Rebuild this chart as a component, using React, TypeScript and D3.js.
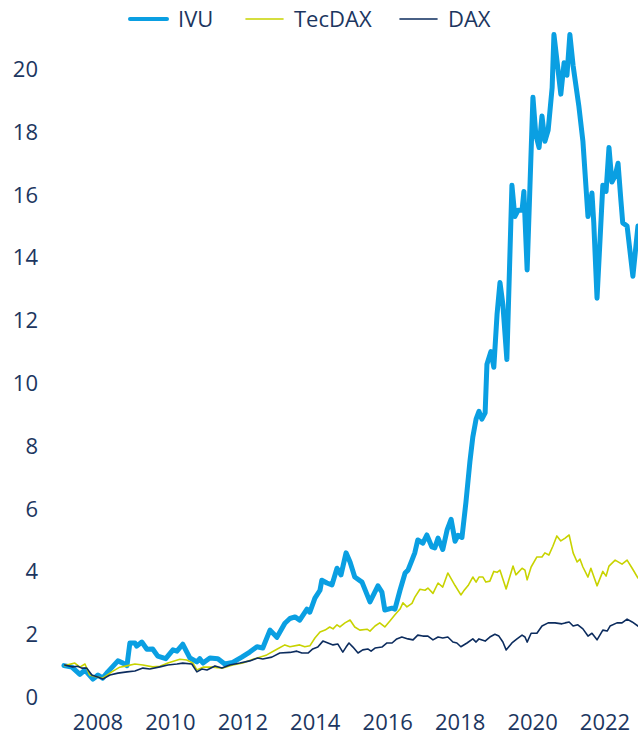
import React from "react";
import * as d3 from "d3";

const ivuYears = [2007.06, 2007.28, 2007.5, 2007.64, 2007.86, 2008.0, 2008.13, 2008.27, 2008.55, 2008.69, 2008.8, 2008.88, 2009.02, 2009.07, 2009.21, 2009.35, 2009.51, 2009.65, 2009.87, 2010.07, 2010.18, 2010.34, 2010.54, 2010.73, 2010.81, 2010.9, 2011.09, 2011.31, 2011.5, 2011.72, 2011.97, 2012.19, 2012.39, 2012.55, 2012.75, 2012.94, 2013.16, 2013.3, 2013.44, 2013.57, 2013.77, 2013.85, 2013.99, 2014.13, 2014.18, 2014.32, 2014.46, 2014.6, 2014.71, 2014.85, 2014.96, 2015.09, 2015.29, 2015.51, 2015.73, 2015.84, 2015.92, 2016.12, 2016.2, 2016.34, 2016.48, 2016.56, 2016.67, 2016.75, 2016.83, 2016.97, 2017.08, 2017.22, 2017.3, 2017.39, 2017.52, 2017.64, 2017.75, 2017.86, 2017.94, 2018.05, 2018.16, 2018.27, 2018.35, 2018.44, 2018.52, 2018.6, 2018.69, 2018.74, 2018.85, 2018.93, 2019.02, 2019.1, 2019.18, 2019.29, 2019.43, 2019.51, 2019.6, 2019.71, 2019.76, 2019.85, 2020.01, 2020.09, 2020.18, 2020.26, 2020.34, 2020.43, 2020.54, 2020.59, 2020.67, 2020.78, 2020.87, 2020.95, 2021.03, 2021.12, 2021.28, 2021.39, 2021.53, 2021.64, 2021.69, 2021.78, 2021.94, 2022.03, 2022.11, 2022.19, 2022.28, 2022.36, 2022.44, 2022.49, 2022.61, 2022.77, 2022.91];
const ivuValues = [1.0, 0.95, 0.72, 0.86, 0.57, 0.7, 0.6, 0.8, 1.15, 1.08, 1.0, 1.72, 1.72, 1.62, 1.75, 1.52, 1.53, 1.3, 1.22, 1.5, 1.46, 1.68, 1.24, 1.12, 1.22, 1.08, 1.24, 1.22, 1.05, 1.1, 1.27, 1.43, 1.6, 1.56, 2.13, 1.9, 2.35, 2.5, 2.55, 2.45, 2.8, 2.7, 3.15, 3.4, 3.72, 3.63, 3.57, 4.1, 3.89, 4.59, 4.3, 3.82, 3.66, 3.03, 3.54, 3.34, 2.77, 2.83, 2.8, 3.4, 3.95, 4.04, 4.36, 4.6, 5.0, 4.9, 5.16, 4.78, 4.75, 5.06, 4.7, 5.32, 5.66, 4.96, 5.15, 5.08, 6.2, 7.5, 8.28, 8.85, 9.1, 8.85, 9.05, 10.6, 11.0, 10.5, 12.2, 13.2, 12.5, 10.75, 16.3, 15.3, 15.5, 15.5, 16.1, 13.6, 19.1, 17.9, 17.5, 18.5, 17.7, 18.05, 19.4, 21.1, 20.3, 19.2, 20.2, 19.8, 21.1, 20.1, 18.8, 17.7, 15.3, 16.05, 15.1, 12.7, 16.3, 16.1, 17.5, 16.4, 16.6, 17.0, 15.8, 15.1, 15.0, 13.4, 15.0];

const tecdaxYears = [2007.08, 2007.36, 2007.5, 2007.64, 2007.77, 2007.97, 2008.13, 2008.38, 2008.6, 2008.82, 2009.02, 2009.24, 2009.51, 2009.71, 2009.93, 2010.26, 2010.45, 2010.62, 2010.73, 2010.9, 2011.17, 2011.45, 2011.72, 2012.0, 2012.28, 2012.66, 2012.94, 2013.16, 2013.3, 2013.57, 2013.71, 2013.85, 2013.99, 2014.13, 2014.27, 2014.4, 2014.49, 2014.6, 2014.68, 2014.82, 2014.96, 2015.09, 2015.23, 2015.43, 2015.51, 2015.65, 2015.78, 2015.92, 2016.06, 2016.2, 2016.34, 2016.42, 2016.53, 2016.67, 2016.75, 2016.89, 2017.03, 2017.11, 2017.25, 2017.39, 2017.52, 2017.66, 2017.86, 2018.02, 2018.1, 2018.22, 2018.35, 2018.44, 2018.52, 2018.63, 2018.71, 2018.82, 2018.93, 2019.02, 2019.1, 2019.27, 2019.46, 2019.54, 2019.71, 2019.79, 2019.85, 2019.96, 2020.12, 2020.26, 2020.34, 2020.45, 2020.56, 2020.67, 2020.78, 2020.9, 2021.01, 2021.12, 2021.23, 2021.31, 2021.39, 2021.53, 2021.61, 2021.78, 2021.94, 2022.03, 2022.11, 2022.28, 2022.47, 2022.61, 2022.75, 2022.91];
const tecdaxValues = [1.0, 1.08, 0.95, 1.05, 0.7, 0.64, 0.6, 0.8, 0.95, 1.0, 1.05, 1.02, 0.96, 0.98, 1.08, 1.2, 1.18, 1.08, 0.86, 0.95, 0.95, 0.92, 1.02, 1.08, 1.2, 1.34, 1.52, 1.66, 1.6, 1.66, 1.6, 1.63, 1.88, 2.07, 2.13, 2.23, 2.17, 2.3, 2.23, 2.36, 2.45, 2.23, 2.13, 2.16, 2.1, 2.26, 2.36, 2.23, 2.42, 2.62, 2.8, 3.0, 2.87, 2.98, 3.18, 3.43, 3.4, 3.47, 3.3, 3.63, 3.5, 3.95, 3.55, 3.25, 3.38, 3.55, 3.82, 3.66, 3.82, 3.82, 3.66, 3.69, 4.0, 3.97, 4.04, 3.44, 4.17, 3.89, 4.1, 4.04, 3.73, 4.14, 4.46, 4.46, 4.59, 4.52, 4.8, 5.13, 4.97, 5.06, 5.16, 4.59, 4.3, 4.39, 4.14, 3.82, 4.1, 3.54, 4.0, 3.85, 4.17, 4.36, 4.23, 4.36, 4.1, 3.79];

const daxYears = [2007.08, 2007.3, 2007.44, 2007.55, 2007.69, 2007.83, 2007.99, 2008.13, 2008.33, 2008.55, 2008.8, 2009.02, 2009.24, 2009.43, 2009.71, 2009.93, 2010.18, 2010.34, 2010.59, 2010.73, 2010.87, 2011.01, 2011.23, 2011.42, 2011.64, 2011.92, 2012.19, 2012.41, 2012.55, 2012.8, 2013.02, 2013.3, 2013.49, 2013.63, 2013.8, 2013.93, 2014.07, 2014.21, 2014.35, 2014.49, 2014.62, 2014.76, 2014.85, 2014.93, 2015.04, 2015.18, 2015.31, 2015.45, 2015.54, 2015.65, 2015.84, 2015.98, 2016.12, 2016.25, 2016.39, 2016.56, 2016.7, 2016.83, 2016.97, 2017.11, 2017.25, 2017.39, 2017.52, 2017.66, 2017.8, 2017.91, 2018.02, 2018.19, 2018.35, 2018.44, 2018.52, 2018.69, 2018.82, 2018.96, 2019.07, 2019.18, 2019.27, 2019.43, 2019.57, 2019.71, 2019.79, 2019.85, 2019.96, 2020.12, 2020.26, 2020.43, 2020.62, 2020.81, 2020.9, 2021.01, 2021.12, 2021.25, 2021.39, 2021.53, 2021.64, 2021.78, 2021.94, 2022.06, 2022.14, 2022.33, 2022.47, 2022.61, 2022.75, 2022.91];
const daxValues = [1.02, 0.96, 0.98, 0.92, 0.92, 0.7, 0.64, 0.57, 0.7, 0.76, 0.8, 0.83, 0.92, 0.89, 0.96, 1.02, 1.05, 1.08, 1.05, 0.8, 0.89, 0.86, 0.99, 0.92, 1.02, 1.08, 1.15, 1.24, 1.21, 1.27, 1.4, 1.42, 1.46, 1.4, 1.4, 1.53, 1.59, 1.78, 1.72, 1.66, 1.69, 1.43, 1.59, 1.72, 1.59, 1.4, 1.5, 1.53, 1.46, 1.56, 1.59, 1.72, 1.72, 1.85, 1.91, 1.85, 1.82, 1.97, 1.94, 1.94, 1.82, 1.91, 1.88, 1.91, 1.75, 1.72, 1.6, 1.72, 1.85, 1.75, 1.85, 1.78, 1.91, 2.0, 1.94, 1.75, 1.5, 1.72, 1.85, 1.97, 1.91, 1.75, 2.03, 2.03, 2.26, 2.36, 2.36, 2.33, 2.36, 2.39, 2.26, 2.3, 2.17, 1.94, 2.03, 1.82, 2.13, 2.1, 2.26, 2.36, 2.36, 2.48, 2.39, 2.26];

const xTicks = [2008, 2010, 2012, 2014, 2016, 2018, 2020, 2022];
const yTicks = [0, 2, 4, 6, 8, 10, 12, 14, 16, 18, 20];

const seriesNames = ["IVU", "TecDAX", "DAX"];
const seriesColors = ["#0A9FE2", "#C8D300", "#0C2C5E"];
const seriesWidths = [5, 1.6, 1.6];

const W = 638;
const H = 736;
const FONT = "'Open Sans', 'Noto Sans', sans-serif";
const TEXT = "#1C3660";

export default function App() {
  const x = d3.scaleLinear().domain([2008, 2022]).range([98, 605]);
  const y = d3.scaleLinear().domain([0, 20]).range([697, 69]);

  const line = d3
    .line<[number, number]>()
    .x((d) => x(d[0]))
    .y((d) => y(d[1]));

  const series = [
    ivuYears.map((t, i) => [t, ivuValues[i]] as [number, number]),
    tecdaxYears.map((t, i) => [t, tecdaxValues[i]] as [number, number]),
    daxYears.map((t, i) => [t, daxValues[i]] as [number, number]),
  ];

  const legendX = [130, 246, 400];

  return (
    <svg
      width={W}
      height={H}
      style={{ position: "absolute", left: 0, top: 0, background: "#fff" }}
      fontFamily={FONT}
    >
      {yTicks.map((v) => (
        <text
          key={v}
          x={38}
          y={y(v)}
          dy="0.36em"
          textAnchor="end"
          fontSize={22}
          fill={TEXT}
        >
          {v}
        </text>
      ))}
      {xTicks.map((t) => (
        <text
          key={t}
          x={x(t)}
          y={730}
          textAnchor="middle"
          fontSize={22}
          fill={TEXT}
        >
          {t}
        </text>
      ))}
      <g>
        {series.map((s, i) => (
          <path
            key={seriesNames[i]}
            d={line(s) || ""}
            fill="none"
            stroke={seriesColors[i]}
            strokeWidth={seriesWidths[i]}
            strokeLinejoin="round"
            strokeLinecap="round"
          />
        ))}
      </g>
      {seriesNames.map((n, i) => (
        <g key={n}>
          <line
            x1={legendX[i]}
            x2={legendX[i] + 37}
            y1={19}
            y2={19}
            stroke={seriesColors[i]}
            strokeWidth={i === 0 ? 4 : 1.6}
            strokeLinecap="round"
          />
          <text
            x={legendX[i] + 48}
            y={19}
            dy="0.36em"
            fontSize={22}
            fill={TEXT}
          >
            {n}
          </text>
        </g>
      ))}
    </svg>
  );
}
